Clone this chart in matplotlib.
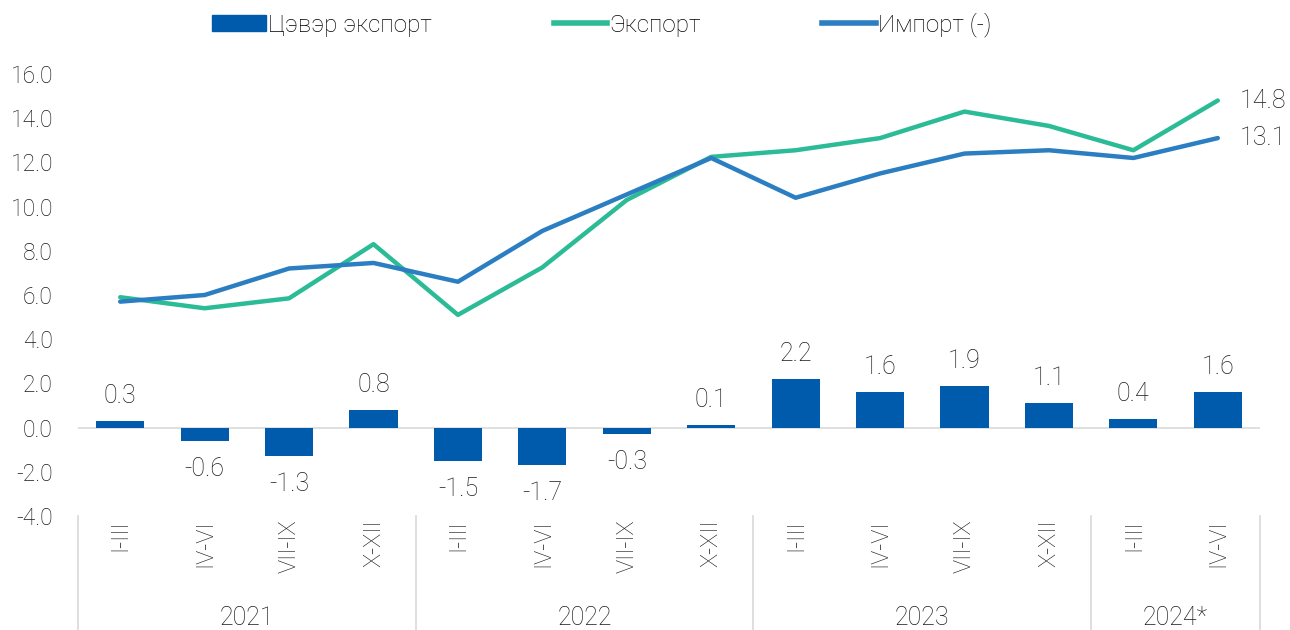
import matplotlib
matplotlib.use("Agg")
import matplotlib.pyplot as plt
import matplotlib.transforms as mtransforms
from matplotlib.patches import Patch
from matplotlib.lines import Line2D
import numpy as np

quarters = ["I-III", "IV-VI", "VII-IX", "X-XII"] * 3 + ["I-III", "IV-VI"]
years = ["2021", "2022", "2023", "2024*"]
year_sizes = [4, 4, 4, 2]

net_export = [0.3, -0.6, -1.3, 0.8, -1.5, -1.7, -0.3, 0.1, 2.2, 1.6, 1.9, 1.1, 0.4, 1.6]
export = [5.9, 5.4, 5.85, 8.3, 5.1, 7.25, 10.3, 12.25, 12.55, 13.1, 14.3, 13.65, 12.55, 14.8]
imports = [5.7, 6.0, 7.2, 7.45, 6.6, 8.9, 10.55, 12.2, 10.4, 11.5, 12.4, 12.55, 12.2, 13.1]

BAR_C = "#005BAC"
EXP_C = "#2BBB96"
IMP_C = "#2A7EC1"
GRID_C = "#D9D9D9"
TXT_C = "#1A1A1A"

plt.rcParams["font.family"] = ["Roboto", "DejaVu Sans"]
plt.rcParams["font.weight"] = "light"

fig = plt.figure(figsize=(12.9, 6.3), dpi=100)
ax = fig.add_axes([78 / 1290, 1 - 516 / 630, (1260 - 78) / 1290, (516 - 74) / 630])

x = np.arange(len(quarters))
ax.bar(x, net_export, width=0.57, color=BAR_C, zorder=2)
ax.plot(x, export, color=EXP_C, lw=3.2, zorder=3, solid_capstyle="round")
ax.plot(x, imports, color=IMP_C, lw=3.2, zorder=4, solid_capstyle="round")

for xi, v in zip(x, net_export):
    off = 18 if v >= 0 else -20
    ax.annotate(f"{v:.1f}", (xi, v), xytext=(0, off), textcoords="offset points",
                ha="center", va="center", fontsize=18, color=TXT_C)

ax.annotate(f"{export[-1]:.1f}", (x[-1], export[-1]), xytext=(16, 0), textcoords="offset points",
            ha="left", va="center", fontsize=18, color=TXT_C)
ax.annotate(f"{imports[-1]:.1f}", (x[-1], imports[-1]), xytext=(16, 0), textcoords="offset points",
            ha="left", va="center", fontsize=18, color=TXT_C)

ax.set_xlim(-0.5, len(quarters) - 0.5)
ax.set_ylim(-4, 16)
ax.set_yticks(np.arange(-4, 17, 2))
ax.set_yticklabels([f"{t:.1f}" for t in np.arange(-4, 17, 2)])
ax.tick_params(axis="y", length=0, labelsize=16.5, pad=18, labelcolor=TXT_C)
ax.set_xticks([])
for s in ax.spines.values():
    s.set_visible(False)
ax.axhline(0, color=GRID_C, lw=1.2, zorder=1)

# category axis below the plot
trans = mtransforms.blended_transform_factory(ax.transData, ax.transAxes)
bounds = np.concatenate([[0], np.cumsum(year_sizes)]) - 0.5
for b in bounds:
    ax.plot([b, b], [0, -0.26], transform=trans, color=GRID_C, lw=1.2, clip_on=False)
for xi, q in zip(x, quarters):
    ax.text(xi, -0.008, q, transform=trans, rotation=90, ha="center", va="top",
            fontsize=17, color=TXT_C)
for i, yr in enumerate(years):
    c = (bounds[i] + bounds[i + 1]) / 2
    ax.text(c, -0.23, yr, transform=trans, ha="center", va="center",
            fontsize=18, color=TXT_C)

handles = [Patch(color=BAR_C), Line2D([], [], color=EXP_C, lw=4), Line2D([], [], color=IMP_C, lw=4)]
labels = ["Цэвэр экспорт", "Экспорт", "Импорт (-)"]
fig.legend(handles, labels, loc="center", bbox_to_anchor=(602 / 1290, 1 - 25 / 630), ncol=3,
           frameon=False, fontsize=17.5, handlelength=2.2, handleheight=0.65, handletextpad=0.1,
           columnspacing=5.0)

fig.savefig("out.png", dpi=100)
